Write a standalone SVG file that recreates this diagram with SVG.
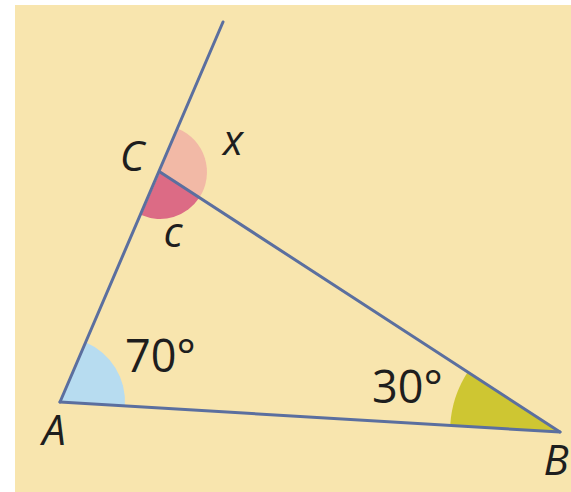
<svg xmlns="http://www.w3.org/2000/svg" width="571" height="492" viewBox="0 0 571 492">
<style>
.lbl{font-family:"Open Sans","Noto Sans",sans-serif;font-size:42px;fill:#1e1e1e}
.it{font-style:italic}
.num{font-size:45px}
.edge{stroke:#5b6f9f;stroke-width:3;fill:none;stroke-linecap:round}
</style>
<rect x="15" y="5" width="556" height="487" fill="#f8e5ae"/>
<g id="angles">
<path id="angleA" d="M60,402 L124.9,405.9 A65,65 0 0 0 85.6,342.2 Z" fill="#b7dcf0"/>
<path id="angleB" d="M560,432 L450.2,425.5 A110,110 0 0 1 467.7,372.1 Z" fill="#cec632"/>
<path id="angleX" d="M160,172 L178.2,128.7 A47,47 0 0 1 199.4,197.6 Z" fill="#f2b9a6"/>
<path id="angleC" d="M160,172 L199.4,197.6 A47,47 0 0 1 141.3,215.1 Z" fill="#dc6b85"/>
</g>
<g id="connectors">
<line class="edge" x1="60" y1="402" x2="223" y2="22"/>
<line class="edge" x1="160" y1="172" x2="560" y2="432"/>
<line class="edge" x1="60" y1="402" x2="560" y2="432"/>
</g>
<g id="nodeA"><text class="lbl it" x="54" y="445" text-anchor="middle">A</text></g>
<g id="nodeB"><text class="lbl it" x="556" y="475" text-anchor="middle">B</text></g>
<g id="nodeC"><text class="lbl it" x="132" y="171" text-anchor="middle">C</text></g>
<g id="labelX"><text class="lbl it" x="233" y="155" text-anchor="middle">x</text></g>
<g id="labelc"><text class="lbl it" x="173" y="247" text-anchor="middle">c</text></g>
<g id="label70"><text class="lbl num" x="125" y="372">70°</text></g>
<g id="label30"><text class="lbl num" x="372" y="403">30°</text></g>
</svg>
